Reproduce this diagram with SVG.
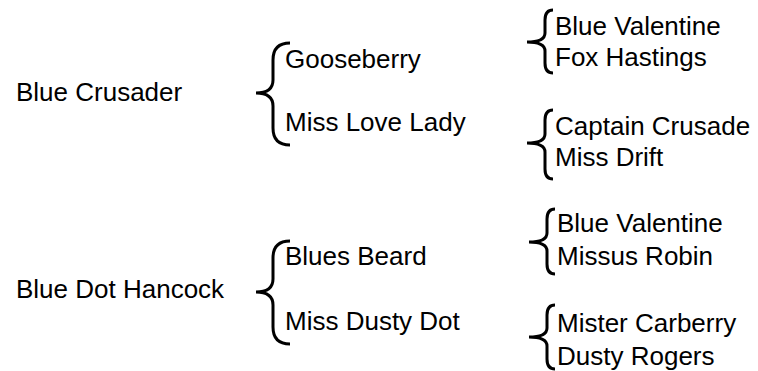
<svg xmlns="http://www.w3.org/2000/svg" width="758" height="371" viewBox="0 0 758 371">
<style>
text{font-family:"Liberation Sans",Arial,sans-serif;font-size:26px;fill:#000}
.br{fill:none;stroke:#000;stroke-width:3;stroke-linecap:butt}
</style>
<rect width="758" height="371" fill="#fff"/>
<g id="connectors">
<path class="br" d="M290,43 Q273,43 273,60 L273,80 Q273,93 256,93 Q273,93 273,106 L273,128 Q273,145 290,145"/>
<path class="br" d="M553,10 Q545,10 545,20 L545,33 Q545,42 527,42 Q545,42 545,51 L545,63 Q545,73 553,73"/>
<path class="br" d="M553,110 Q545,110 545,120 L545,134 Q545,143 527,143 Q545,143 545,152 L545,169 Q545,179 553,179"/>
<path class="br" d="M290,241 Q273,241 273,258 L273,279 Q273,292 256,292 Q273,292 273,305 L273,327 Q273,344 290,344"/>
<path class="br" d="M555,209 Q547,209 547,219 L547,233 Q547,242 529,242 Q547,242 547,251 L547,264 Q547,274 555,274"/>
<path class="br" d="M555,305 Q547,305 547,315 L547,328 Q547,337 529,337 Q547,337 547,346 L547,359 Q547,369 555,369"/>
</g>
<g id="n-blue-crusader"><text x="16" y="101">Blue Crusader</text></g>
<g id="n-gooseberry"><text x="285" y="68">Gooseberry</text></g>
<g id="n-miss-love-lady"><text x="285" y="131">Miss Love Lady</text></g>
<g id="n-blue-valentine-1"><text x="555" y="35">Blue Valentine</text></g>
<g id="n-fox-hastings"><text x="555" y="66">Fox Hastings</text></g>
<g id="n-captain-crusade"><text x="555" y="135">Captain Crusade</text></g>
<g id="n-miss-drift"><text x="555" y="166">Miss Drift</text></g>
<g id="n-blue-dot-hancock"><text x="16" y="298">Blue Dot Hancock</text></g>
<g id="n-blues-beard"><text x="285" y="265">Blues Beard</text></g>
<g id="n-miss-dusty-dot"><text x="285" y="330">Miss Dusty Dot</text></g>
<g id="n-blue-valentine-2"><text x="557" y="232">Blue Valentine</text></g>
<g id="n-missus-robin"><text x="557" y="265">Missus Robin</text></g>
<g id="n-mister-carberry"><text x="557" y="332">Mister Carberry</text></g>
<g id="n-dusty-rogers"><text x="557" y="365">Dusty Rogers</text></g>
</svg>
